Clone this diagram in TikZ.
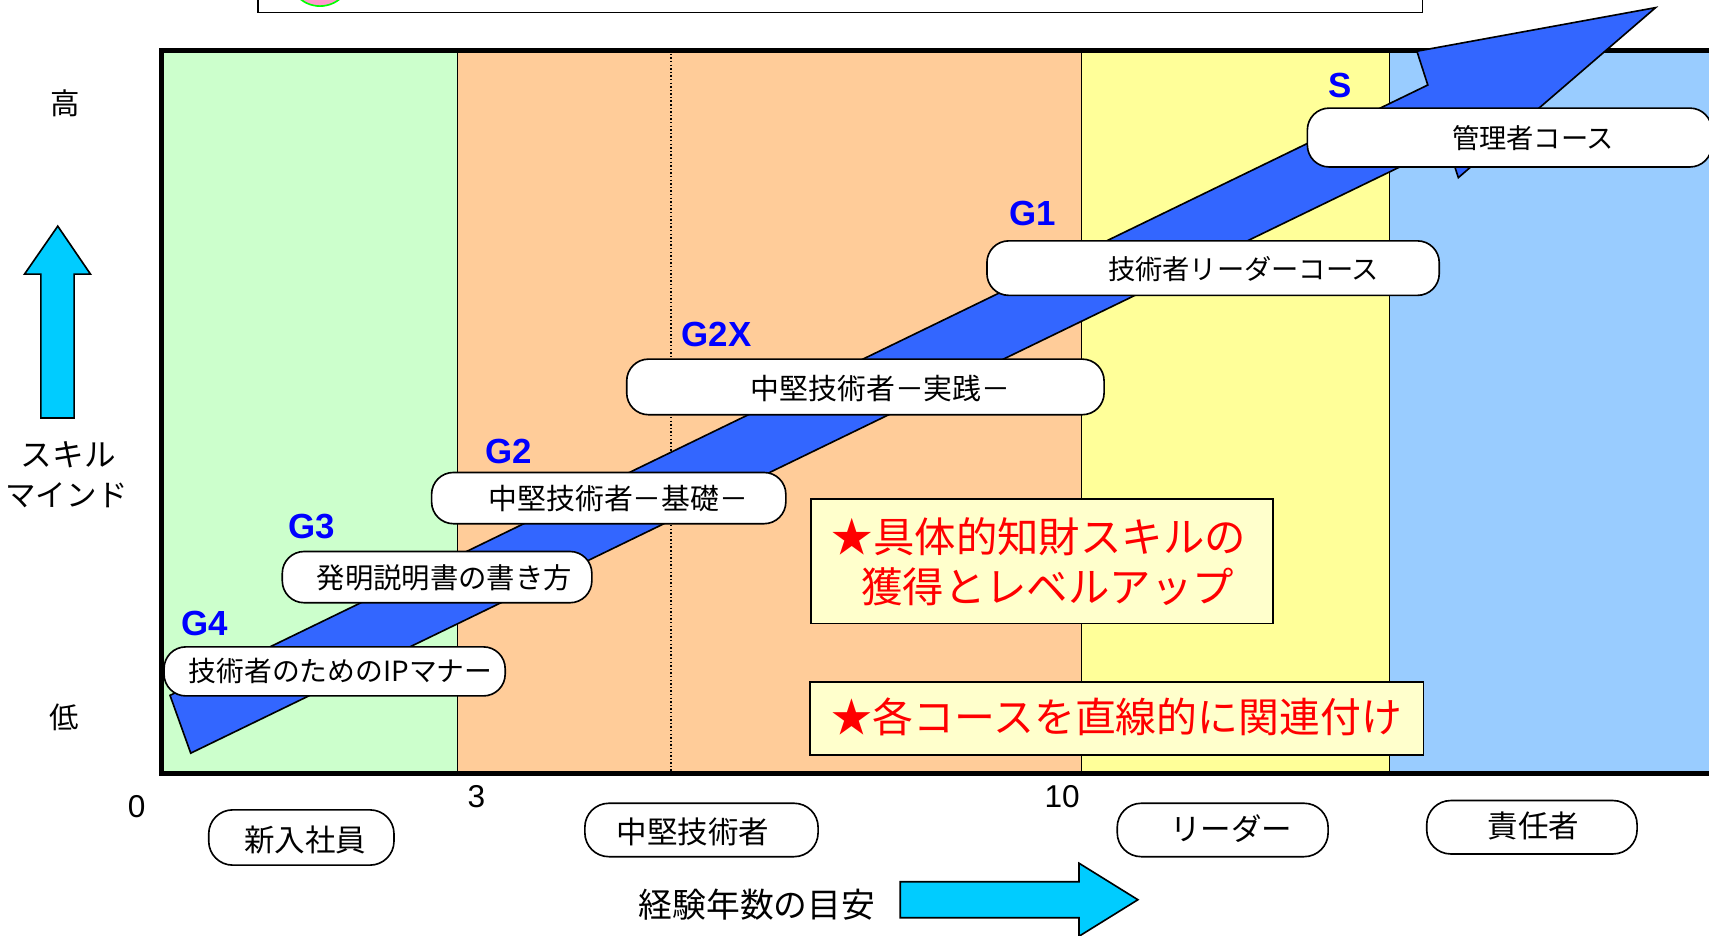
\documentclass[tikz,border=0pt]{standalone}
\usepackage{fontspec}
\setmainfont{Liberation Sans}
\newfontfamily\jpf{Noto Sans CJK JP}
\definecolor{zgreen}{HTML}{CCFFCC}
\definecolor{zorange}{HTML}{FFCC99}
\definecolor{zyellow}{HTML}{FFFF99}
\definecolor{zblue}{HTML}{99CCFF}
\definecolor{arrowblue}{HTML}{3366FF}
\definecolor{cyanc}{HTML}{00CCFF}
\definecolor{notefill}{HTML}{FFFFCC}
\definecolor{gblue}{HTML}{0000FF}
\definecolor{pinkc}{HTML}{FF99CC}
\definecolor{greenc}{HTML}{00FF00}
\begin{document}
\begin{tikzpicture}[x=1pt,y=-1pt,
  course/.style={draw=black, line width=1.5pt, fill=white, rounded corners=20pt, inner sep=0pt},
  coursetext/.style={font=\jpf\fontsize{25}{25}\selectfont, inner sep=0pt},
  period/.style={draw=black, line width=1.5pt, fill=white, rounded corners=22pt, inner sep=0pt},
  periodtext/.style={font=\jpf\fontsize{28}{28}\selectfont, inner sep=0pt},
  glabel/.style={font=\bfseries\fontsize{32}{32}\selectfont, text=gblue, inner sep=0pt},
  notebox/.style={draw=black, line width=1.5pt, fill=notefill, inner sep=0pt},
  notetext/.style={font=\jpf\fontsize{38}{38}\selectfont, text=red, inner sep=0pt, anchor=west},
  axistext/.style={font=\jpf\fontsize{27}{27}\selectfont, inner sep=0pt},
  numtext/.style={font=\fontsize{29}{29}\selectfont, inner sep=0pt},
  cyanarrow/.style={draw=black, line width=1.5pt, fill=cyanc, line join=miter},
  divider/.style={draw=black, line width=1.2pt}
]
\useasboundingbox (0,0) rectangle (1568,858);
\clip (0,0) rectangle (1568,858);

% top box (cut off)
\draw[line width=1.5pt, fill=white] (237,-40) rectangle (1305,11.5);
\node[circle, draw=greenc, fill=pinkc, line width=1.5pt, minimum size=56.8pt, inner sep=0pt] (dot) at (293.6,-22.8) {};

% period regions
\fill[zgreen] (148,46) rectangle (420,709.5);
\fill[zorange] (420,46) rectangle (992.5,709.5);
\fill[zyellow] (992.5,46) rectangle (1275,709.5);
\fill[zblue] (1275,46) rectangle (1590,709.5);
\draw[divider] (420,46) -- (420,709.5);
\draw[divider] (992.5,46) -- (992.5,709.5);
\draw[divider] (1275,46) -- (1275,709.5);
\draw[dotted, line width=1.3pt] (615.6,46) -- (615.6,709.5);

% frame
\draw[line width=4.6pt, line join=miter] (1590,46) -- (148,46) -- (148,709.5) -- (1590,709.5);

% big diagonal arrow
\draw[line width=1.5pt, fill=arrowblue, line join=miter]
  (156,638) -- (175,691) -- (1328,132) -- (1338,163) -- (1519,7) -- (1300,47) -- (1310,78) -- cycle;

% course boxes
\node[course, minimum width=313pt, minimum height=45pt] (bIP) at (307,616) {};
\node[coursetext, font=\jpf\fontsize{25.5}{25.5}\selectfont] (tIP) at (312.5,615.5) {技術者のためのIPマナー};
\node[course, minimum width=284pt, minimum height=47pt] (bHat) at (401,529.5) {};
\node[coursetext, font=\jpf\fontsize{26}{26}\selectfont] (tHat) at (407.6,530) {発明説明書の書き方};
\node[course, minimum width=325pt, minimum height=47pt] (bKiso) at (558.5,457) {};
\node[coursetext, font=\jpf\fontsize{26.5}{26.5}\selectfont] (tKiso) at (567.5,457.5) {中堅技術者－基礎－};
\node[course, minimum width=438pt, minimum height=51pt] (bJis) at (794,355) {};
\node[coursetext, font=\jpf\fontsize{26.5}{26.5}\selectfont] (tJis) at (808,356) {中堅技術者－実践－};
\node[course, minimum width=415pt, minimum height=50pt] (bLead) at (1113,246) {};
\node[coursetext] (tLead) at (1141,246.5) {技術者リーダーコース};
\node[course, minimum width=371pt, minimum height=54pt] (bKan) at (1385,126.2) {};
\node[coursetext] (tKan) at (1406.6,126.5) {管理者コース};

% grade labels
\node[glabel] (g4) at (188,572.5) {G4};
\node[glabel] (g3) at (286,483) {G3};
\node[glabel] (g2) at (466.7,414) {G2};
\node[glabel] (g2x) at (657.5,306.6) {G2X};
\node[glabel] (g1) at (947.5,195.7) {G1};
\node[glabel] (gs) at (1230,78.6) {S};

% notes
\node[notebox, minimum width=424pt, minimum height=114pt] (note1) at (956,515) {};
\node[notetext] (note1a) at (763,492) {★具体的知財スキルの};
\node[notetext] (note1b) at (790,538) {獲得とレベルアップ};
\node[notebox, minimum width=563pt, minimum height=67pt] (note2) at (1024.5,659) {};
\node[notetext, font=\jpf\fontsize{37.5}{37.5}\selectfont] (note2a) at (763,658) {★各コースを直線的に関連付け};

% vertical axis
\node[axistext] (hi) at (59.5,95) {高};
\node[axistext] (lo) at (59,658) {低};
\draw[cyanarrow] (53,207.5) -- (83,251.5) -- (68,251.5) -- (68,383.5) -- (37.5,383.5) -- (37.5,251.5) -- (22.5,251.5) -- cycle;
\node[axistext, font=\jpf\fontsize{29}{29}\selectfont] (sk1) at (62.7,417.5) {スキル};
\node[axistext, font=\jpf\fontsize{28}{28}\selectfont] (sk2) at (61,454) {マインド};

% horizontal axis numbers
\node[numtext] (n0) at (125.5,740) {0};
\node[numtext] (n3) at (437,731) {3};
\node[numtext] (n10) at (974.6,731) {10};

% period labels
\node[period, minimum width=170pt, minimum height=50.7pt] (pNew) at (276.5,768.4) {};
\node[periodtext] (tNew) at (280,771) {新入社員};
\node[period, minimum width=214pt, minimum height=49pt] (pMid) at (643.6,761.5) {};
\node[periodtext] (tMid) at (636,763) {中堅技術者};
\node[period, minimum width=193.5pt, minimum height=49pt] (pLead) at (1121.8,761.5) {};
\node[periodtext] (tLeadP) at (1129.5,760) {リーダー};
\node[period, minimum width=193pt, minimum height=49pt] (pRes) at (1405.5,759) {};
\node[periodtext] (tRes) at (1407,758) {責任者};

% horizontal axis title and arrow
\node[axistext, font=\jpf\fontsize{31}{31}\selectfont] (xt) at (694.5,830) {経験年数の目安};
\draw[cyanarrow] (826,809) -- (990,809) -- (990,792) -- (1044,825.5) -- (990,859) -- (990,842) -- (826,842) -- cycle;
\end{tikzpicture}
\end{document}
